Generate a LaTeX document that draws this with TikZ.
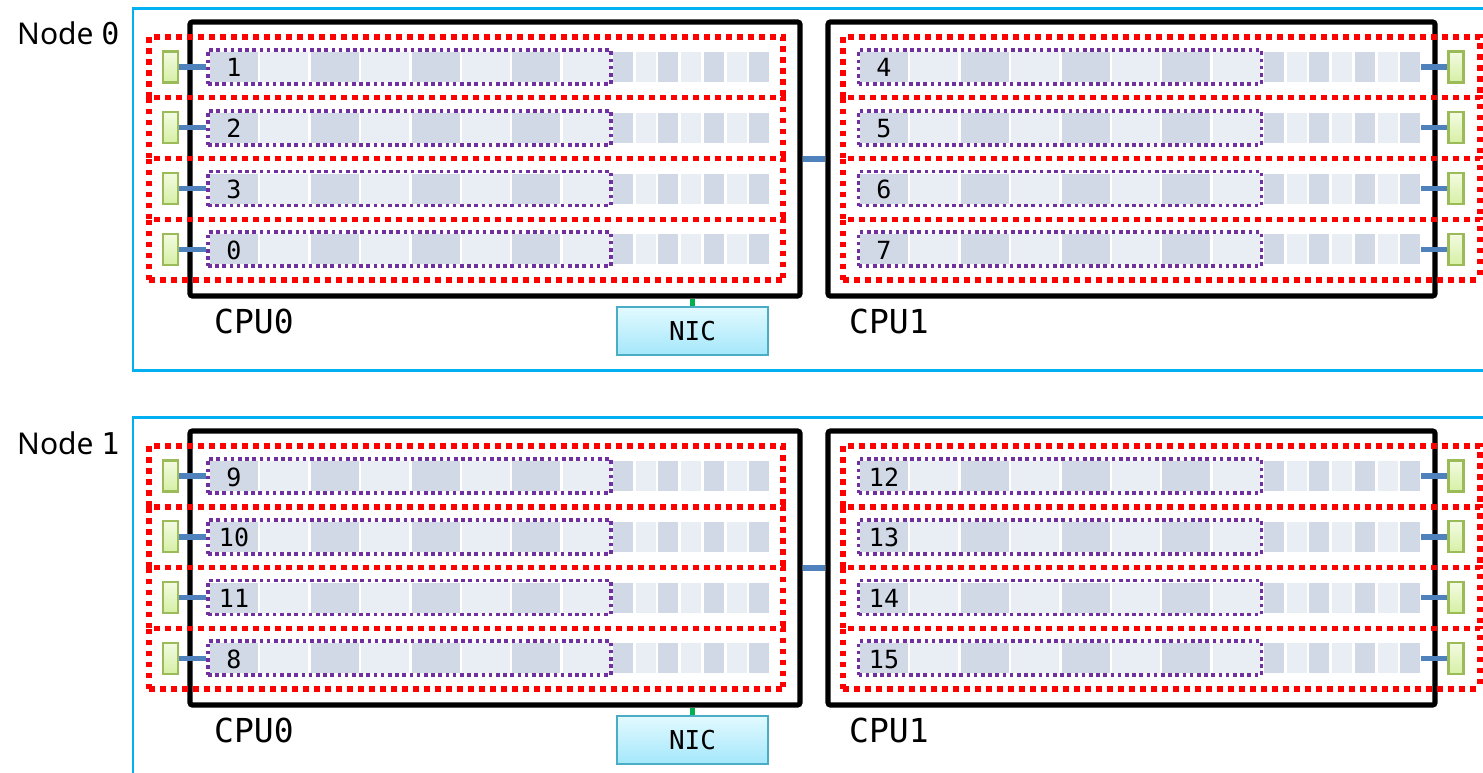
\documentclass[tikz,border=0pt]{standalone}
\usepackage{fontspec}
\setmainfont{Noto Sans}
\setmonofont{DejaVu Sans Mono}
\usetikzlibrary{positioning,calc}

\definecolor{nodecyan}{HTML}{00B0F0}
\definecolor{rowred}{HTML}{FF0000}
\definecolor{slotpurple}{HTML}{7030A0}
\definecolor{darkcell}{HTML}{D1D9E7}
\definecolor{lightcell}{HTML}{E9EDF4}
\definecolor{linkblue}{HTML}{4F81BD}
\definecolor{portedge}{HTML}{9BBB59}
\definecolor{porttop}{HTML}{F3FBE2}
\definecolor{portbottom}{HTML}{D6EFA4}
\definecolor{nicedge}{HTML}{4BACC6}
\definecolor{nictop}{HTML}{E2FAFE}
\definecolor{nicbottom}{HTML}{A4E7FB}
\definecolor{nicgreen}{HTML}{00B050}

\tikzset{
  nodebox/.style={draw=nodecyan, line width=2.2pt},
  cpubox/.style={draw=black, line width=5.2pt, rounded corners=2.5pt, inner sep=0pt},
  rowbox/.style={draw=rowred, line width=5.5pt, dash pattern=on 5.5pt off 5.5pt},
  slotbox/.style={draw=slotpurple, line width=3.6pt, dash pattern=on 3.6pt off 3.6pt,
    minimum width=403pt, minimum height=34pt, inner sep=0pt},
  link/.style={draw=linkblue, line width=5.5pt},
  port/.style={draw=portedge, line width=2.4pt, top color=porttop, bottom color=portbottom,
    minimum width=15pt, minimum height=31pt, inner sep=0pt},
  nic/.style={draw=nicedge, line width=2.4pt, top color=nictop, bottom color=nicbottom,
    minimum width=151pt, minimum height=48pt, inner sep=0pt,
    font=\ttfamily\fontsize{26}{26}\selectfont},
  niclink/.style={draw=nicgreen, line width=4.5pt},
  nodelabel/.style={anchor=base west, inner sep=0pt, font=\fontsize{30}{30}\selectfont},
  cpulabel/.style={anchor=base west, inner sep=0pt, font=\ttfamily\fontsize{33}{33}\selectfont},
  slotnum/.style={anchor=base, inner sep=0pt, font=\ttfamily\fontsize{25}{25}\selectfont}
}

\begin{document}
\begin{tikzpicture}[x=1pt,y=-1pt]
\useasboundingbox (0,0) rectangle (1483,773);
\clip (0,0) rectangle (1483,773);

\foreach \n/\dy in {0/0,1/409} {
  \begin{scope}[shift={(0,\dy)}]
    % machine
    \draw[nodebox] (133,8.5) rectangle (1500,370.5);
    \node[nodelabel] (label\n) at (17,45) {Node \texttt{\n}};

    % sockets
    \node[cpubox, minimum width=610pt, minimum height=274pt] (cpu\n-0) at (495,159) {};
    \node[cpubox, minimum width=607pt, minimum height=274pt] (cpu\n-1) at (1131.5,159) {};
    \draw[link] (cpu\n-0.east) -- (cpu\n-1.west);
    \node[cpulabel] (cpulabel\n-0) at (214,333) {CPU0};
    \node[cpulabel] (cpulabel\n-1) at (849,333) {CPU1};

    % network card
    \node[nic] (nic\n) at (692.5,331) {NIC};
    \draw[niclink] (nic\n.north) -- (nic\n.north |- cpu\n-0.south);

    % GPU slots
    \foreach \r in {0,...,3} {
      \pgfmathsetmacro\ry{37+60.75*\r}
      \pgfmathsetmacro\cy{67+60.75*\r}
      \pgfmathtruncatemacro\sa{mod(\r+1,4)+8*\n}
      \pgfmathtruncatemacro\sb{4+\r+8*\n}

      % CPU0 side
      \foreach \k in {0,...,3} {
        \fill[darkcell] (210+100.8*\k,\cy-15) rectangle ++(48,30);
        \fill[lightcell] (260.4+100.8*\k,\cy-15) rectangle ++(48,30);
      }
      \foreach \k in {0,...,3} \fill[darkcell] (613+45.4*\k,\cy-15) rectangle ++(20,30);
      \foreach \k in {0,...,2} \fill[lightcell] (635.7+45.4*\k,\cy-15) rectangle ++(20,30);
      \draw[rowbox] (149,\ry+60.75) -- (149,\ry) -- (783,\ry) -- (783,\ry+60.75);
      \node[slotbox] (slot\n-\sa) at (409.5,\cy) {};
      \node[slotnum] (num\n-\sa) at (234,\cy+10) {\sa};
      \node[port] (port\n-\sa) at (170.5,\cy) {};
      \draw[link] (port\n-\sa) -- (slot\n-\sa);

      % CPU1 side
      \foreach \k in {0,...,3} {
        \fill[darkcell] (860+100.8*\k,\cy-15) rectangle ++(48,30);
        \fill[lightcell] (910.4+100.8*\k,\cy-15) rectangle ++(48,30);
      }
      \foreach \k in {0,...,3} \fill[darkcell] (1264+45.4*\k,\cy-15) rectangle ++(20,30);
      \foreach \k in {0,...,2} \fill[lightcell] (1286.7+45.4*\k,\cy-15) rectangle ++(20,30);
      \draw[rowbox] (843,\ry+60.75) -- (843,\ry) -- (1480,\ry) -- (1480,\ry+60.75);
      \node[slotbox] (slot\n-\sb) at (1060,\cy) {};
      \node[slotnum] (num\n-\sb) at (884,\cy+10) {\sb};
      \node[port] (port\n-\sb) at (1456,\cy) {};
      \draw[link] (port\n-\sb) -- ++(-35,0) coordinate (tail\n-\sb);
    }
    \draw[rowbox] (149,280) -- (783,280);
    \draw[rowbox] (843,280) -- (1480,280);
  \end{scope}
}
\end{tikzpicture}
\end{document}
